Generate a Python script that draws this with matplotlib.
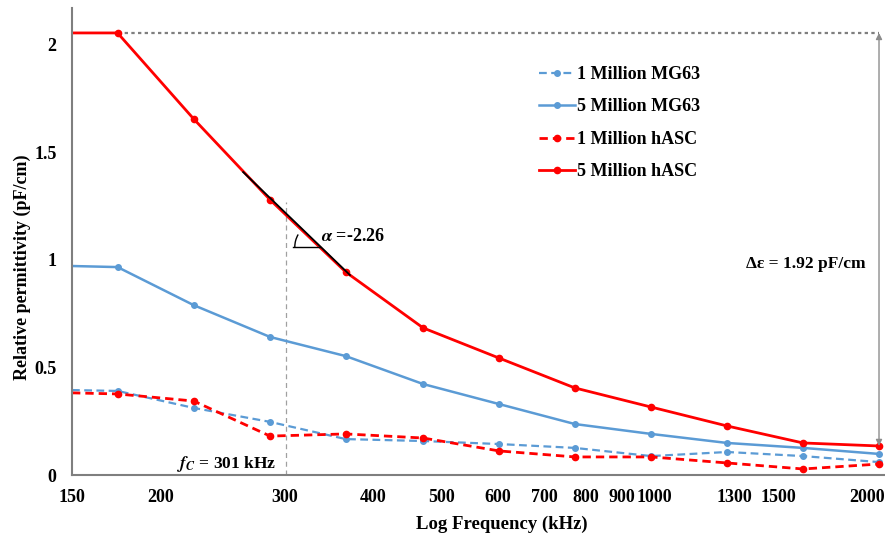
"""Relative permittivity vs log frequency for MG63 and hASC cell suspensions."""
import matplotlib
matplotlib.use("Agg")
import matplotlib.pyplot as plt
from matplotlib.patches import Arc
from matplotlib.ticker import FixedLocator, FixedFormatter, NullLocator

plt.rcParams["font.family"] = ["Liberation Serif", "DejaVu Serif"]
plt.rcParams["font.weight"] = "bold"
plt.rcParams["mathtext.fontset"] = "stix"

# measured frequencies (kHz) and permittivity (pF/cm)
freq_khz = [174, 223, 286, 366, 471, 603, 772, 990, 1268, 1624, 2080]
mg63_1m = [0.391, 0.312, 0.247, 0.167, 0.158, 0.144, 0.126, 0.088, 0.107, 0.088, 0.060]
mg63_5m = [0.967, 0.790, 0.642, 0.553, 0.423, 0.330, 0.237, 0.191, 0.149, 0.126, 0.098]
hasc_1m = [0.377, 0.344, 0.181, 0.191, 0.172, 0.112, 0.084, 0.084, 0.056, 0.028, 0.051]
hasc_5m = [2.056, 1.656, 1.280, 0.944, 0.684, 0.544, 0.405, 0.316, 0.228, 0.149, 0.135]

# value where each trace meets the left axis edge (flat lead-in)
axis_start_khz = 150
lead_in = {"mg63_1m": 0.395, "mg63_5m": 0.972, "hasc_1m": 0.382, "hasc_5m": 2.056}

tick_khz = [150, 200, 300, 400, 500, 600, 700, 800, 900, 1000, 1300, 1500, 2000]
ytick_vals = [0, 0.5, 1, 1.5, 2]
ytick_labels = ["0", "0.5", "1", "1.5", "2"]

# annotations
fc_khz = 301
fc_top = 1.27
tangent_x = [262, 371]
tangent_y = [1.409, 0.930]
angle_base_x = [308, 337]
angle_base_y = 1.06
delta_eps_label = "\u0394\u03b5 = 1.92 pF/cm"
slope_label = r"$\alpha$ =-2.26"

BLUE = "#5b9bd5"
RED = "#ff0000"

fig = plt.figure(figsize=(8.85, 5.46), dpi=100)
ax = fig.add_axes([72 / 885, 71 / 546, 813 / 885, 467 / 546])

x_full = [axis_start_khz] + freq_khz
marks = list(range(1, len(x_full)))
ax.plot(x_full, [lead_in["mg63_1m"]] + mg63_1m, color=BLUE, lw=1.6, ls=(0, (3.5, 2)),
        marker="o", ms=4, markevery=marks, label="1 Million MG63")
ax.plot(x_full, [lead_in["mg63_5m"]] + mg63_5m, color=BLUE, lw=1.8,
        marker="o", ms=4, markevery=marks, label="5 Million MG63")
ax.plot(x_full, [lead_in["hasc_1m"]] + hasc_1m, color=RED, lw=2.0, ls=(0, (3, 1.8)),
        marker="o", ms=4.5, markevery=marks, label="1 Million hASC")
ax.plot(x_full, [lead_in["hasc_5m"]] + hasc_5m, color=RED, lw=2.0,
        marker="o", ms=4.5, markevery=marks, label="5 Million hASC")

# Δε span: dotted top reference and double arrow at the last frequency
ax.plot([freq_khz[0], freq_khz[-1]], [hasc_5m[0], hasc_5m[0]], color="#7f7f7f",
        ls=(0, (1.5, 1.5)), lw=1.6, zorder=1)
ax.annotate("", xy=(freq_khz[-1], hasc_5m[0]), xytext=(freq_khz[-1], hasc_5m[-1]),
            arrowprops=dict(arrowstyle="<|-|>", color="#8c8c8c", lw=1.0,
                            mutation_scale=9, shrinkA=0, shrinkB=0))
ax.text(1640, 0.98, delta_eps_label, ha="center", va="center", fontsize=12.5,
        fontweight="bold")

# cut-off frequency marker
ax.plot([fc_khz, fc_khz], [0, fc_top], color="#a0a0a0", ls=(0, (4, 3)), lw=0.9, zorder=1)
ax.text(fc_khz * 0.97, 0.05, r"$f_C$" + " = 301 kHz", ha="right", va="center",
        fontsize=12.5, fontweight="bold")

# slope tangent with angle mark
ax.plot(tangent_x, tangent_y, color="black", lw=1.3, zorder=4)
ax.plot(angle_base_x, [angle_base_y, angle_base_y], color="black", lw=1.0)
arc = Arc(((320 - 72) / 813, (475 - 247) / 467), 0.062, 0.107,
          theta1=135, theta2=180, transform=ax.transAxes, color="black", lw=1.0)
ax.add_patch(arc)
ax.text(338, 1.11, slope_label, ha="left", va="center", fontsize=13, fontweight="bold")

ax.set_xscale("log")
ax.set_xlim(150, 2121)
ax.set_ylim(0, 2.172)
ax.xaxis.set_major_locator(FixedLocator(tick_khz))
ax.xaxis.set_major_formatter(FixedFormatter([str(t) for t in tick_khz]))
ax.xaxis.set_minor_locator(NullLocator())
ax.set_yticks(ytick_vals)
ax.set_yticklabels(ytick_labels)
ax.tick_params(axis="both", length=0, labelsize=13)
ax.tick_params(axis="x", pad=10)
ax.tick_params(axis="y", pad=11)

for side in ("top", "right"):
    ax.spines[side].set_visible(False)
for side in ("left", "bottom"):
    ax.spines[side].set_color("#7f7f7f")
    ax.spines[side].set_linewidth(1.5)

ax.set_xlabel("Log Frequency (kHz)", fontsize=13.5, fontweight="bold")
ax.xaxis.set_label_coords(0.529, -0.088)
ax.set_ylabel("Relative permittivity (pF/cm)", fontsize=13, fontweight="bold")
ax.yaxis.set_label_coords(-0.05, 0.445)

leg = ax.legend(loc="upper left", bbox_to_anchor=(0.566, 0.891), frameon=False,
                fontsize=13, handlelength=2.0, handletextpad=0.1,
                labelspacing=0.85, borderaxespad=0)

fig.savefig("out.png", dpi=100)
